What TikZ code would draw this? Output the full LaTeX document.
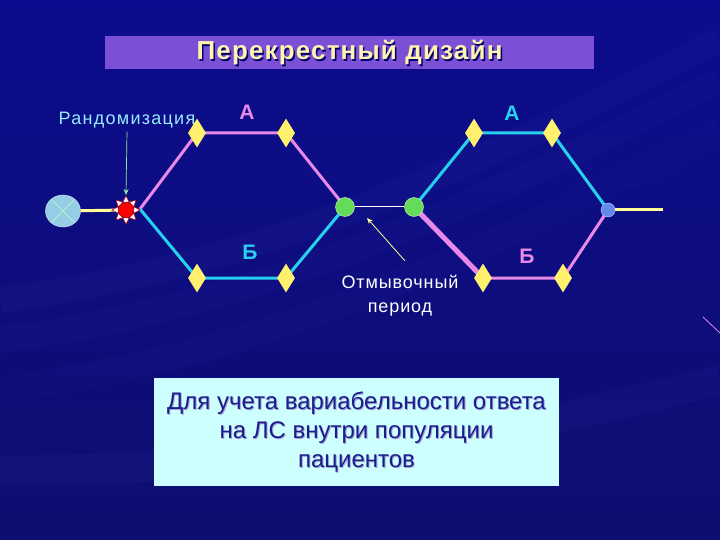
\documentclass[tikz,border=0pt]{standalone}
\usepackage{fontspec}
\setmainfont{Liberation Sans}
\usetikzlibrary{shapes.geometric, arrows.meta, positioning, calc}

\definecolor{bgtop}{RGB}{12,12,142}
\definecolor{bgbottom}{RGB}{14,14,112}
\definecolor{armpink}{RGB}{232,136,232}
\definecolor{armcyan}{RGB}{40,208,240}
\definecolor{gemyellow}{RGB}{255,240,110}
\definecolor{lineyellow}{RGB}{255,255,150}
\definecolor{titleviolet}{RGB}{123,80,214}
\definecolor{titlecream}{RGB}{255,243,176}
\definecolor{boxcyan}{RGB}{206,255,255}
\definecolor{boxnavy}{RGB}{28,28,140}
\definecolor{washgreen}{RGB}{100,220,90}
\definecolor{endblue}{RGB}{100,136,238}
\definecolor{startblue}{RGB}{150,205,230}
\definecolor{randcyan}{RGB}{150,235,255}
\definecolor{arrowgreen}{RGB}{150,235,150}

\pgfdeclarelayer{back}
\pgfsetlayers{back,main}

\begin{document}
\begin{tikzpicture}[x=1pt, y=-1pt,
  gem/.style={diamond, fill=gemyellow, inner sep=0pt, minimum width=18pt, minimum height=29pt},
  arm/.style={line width=3pt},
  washdot/.style={circle, fill=washgreen, draw=white!70!washgreen, line width=0.4pt, minimum width=19pt, inner sep=0pt},
  armlabel/.style={font=\bfseries\fontsize{21}{23}\selectfont},
  titlefont/.style={font=\bfseries\fontsize{26}{28}\selectfont\addfontfeatures{LetterSpace=4.5}},
  notefont/.style={align=center, font=\fontsize{24}{29}\selectfont},
  pointer/.style={-{Stealth[length=6pt,width=5pt]}, line width=0.8pt}
]
\useasboundingbox (0,0) rectangle (720,540);

% Title
\node[fill=titleviolet, minimum width=489pt, minimum height=33pt, inner sep=0pt] (titlebar) at (349.5,53) {};
\node[titlefont, text=black!60!blue] at ([shift={(1.5,1.5)}]titlebar.center) {Перекрестный дизайн};
\node[titlefont, text=titlecream] (title) at (titlebar.center) {Перекрестный дизайн};

% Start and randomisation
\node[ellipse, fill=startblue, draw=white!60!startblue, minimum width=35pt, minimum height=32pt, inner sep=0pt] (start) at (63,211) {};
\draw[white!75!green, line width=0.6pt] (start.45) -- (start.225) (start.135) -- (start.315);
\node[circle, fill=red, draw=red!80!black, minimum size=15pt, inner sep=0pt] (rand) at (126,210) {};
\foreach \a in {0,45,...,315}
  \draw[fill=white, draw=red!75!black, line width=0.5pt]
    ([shift={(\a:14)}]rand.center) -- ([shift={(\a+22:8.5)}]rand.center) -- ([shift={(\a-22:8.5)}]rand.center) -- cycle;
\coordinate (fork) at (140,209);
\node[text=randcyan, font=\fontsize{18}{20}\selectfont\addfontfeatures{LetterSpace=7}] (randlbl) at (127,120) {Рандомизация};
\draw[arrowgreen, line width=0.7pt, -{Stealth[length=6pt,width=5pt]}] (randlbl.south) -- ([shift={(0,-15)}]rand.center);

% First period
\node[gem] (a1) at (197,133) {};
\node[gem] (a2) at (286,133) {};
\node[gem] (b1) at (197,278) {};
\node[gem] (b2) at (286,278) {};
\node[armlabel, text=armpink] (lblA1) at (247,112) {А};
\node[armlabel, text=armcyan] (lblB1) at (250,252) {Б};

% Washout
\node[washdot] (w1) at (345,207) {};
\node[washdot] (w2) at (414,207) {};
\node[text=white, align=center, font=\fontsize{18}{24}\selectfont\addfontfeatures{LetterSpace=5}] (washlbl) at (400,296) {Отмывочный\\период};
\coordinate (washpt) at (367,218);
\draw[pointer, lineyellow] ([shift={(5,-11)}]washlbl.north) -- (washpt);

% Second period
\node[gem] (a3) at (474,133) {};
\node[gem] (a4) at (552,133) {};
\node[gem] (b3) at (483,278) {};
\node[gem] (b4) at (563,278) {};
\node[armlabel, text=armcyan] (lblA2) at (512,113) {А};
\node[armlabel, text=armpink] (lblB2) at (527,256) {Б};
\node[circle, fill=endblue, draw=white!60!endblue, line width=0.4pt, minimum size=14pt, inner sep=0pt] (fin) at (608,210) {};
\coordinate (tail) at (663,210);

% Note
\node[fill=boxcyan, minimum width=405pt, minimum height=108pt, inner sep=0pt] (notebox) at (356.5,432) {};
\node[notefont, text=boxnavy!40] at ([shift={(1,1)}]notebox.center) {Для учета вариабельности ответа\\на ЛС внутри популяции\\пациентов};
\node[notefont, text=boxnavy] (note) at (notebox.center) {Для учета вариабельности ответа\\на ЛС внутри популяции\\пациентов};

\begin{pgfonlayer}{back}
% Background
\shade[top color=bgtop, bottom color=bgbottom] (0,0) rectangle (720,540);
\foreach \d/\o in {0/0.035, 40/0.03, 90/0.025}
  \draw[line width=26pt, blue!50!white, opacity=\o] (720,{40+\d}) .. controls (520,{140+\d}) and (300,{260+\d}) .. (0,{300+\d});
\draw[line width=30pt, blue!50!white, opacity=0.04] (720,380) .. controls (560,420) and (350,470) .. (0,470);
\draw[armpink, line width=0.8pt] (703,317) -- (720,333);
% Arms
\draw[arm, lineyellow] (start) -- (rand);
\draw[arm, armpink] (fork) -- (a1.center) -- (a2.center) -- (w1.center);
\draw[arm, armcyan] (fork) -- (b1.center) -- (b2.center) -- (w1.center);
\draw[white, line width=1pt] (w1) -- (w2);
\draw[arm, armcyan] (w2.center) -- (a3.center) -- (a4.center) -- (fin.center);
\draw[armpink, line width=5pt] (w2.center) -- (b3.center);
\draw[arm, armpink] (b3.center) -- (b4.center) -- (fin.center);
\draw[arm, lineyellow] (fin) -- (tail);
\end{pgfonlayer}
\end{tikzpicture}
\end{document}
